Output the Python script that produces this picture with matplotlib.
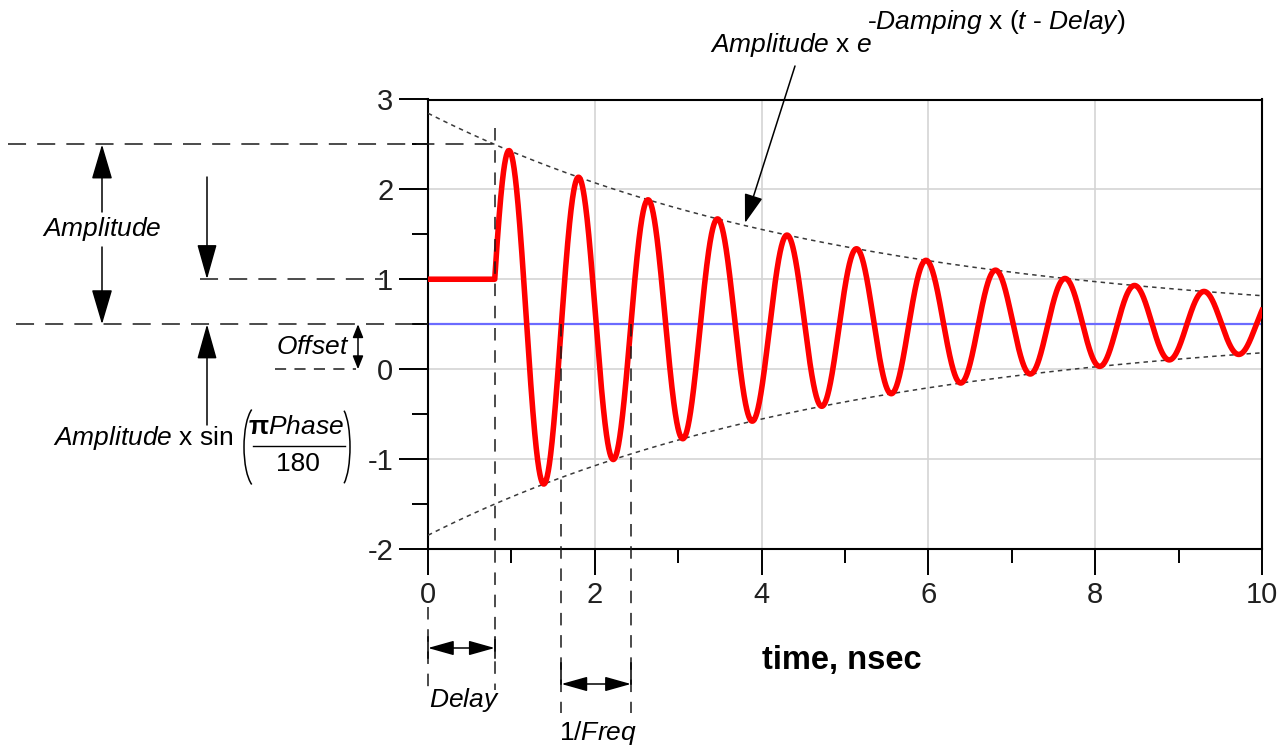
import numpy as np
import matplotlib
matplotlib.use("Agg")
import matplotlib.pyplot as plt
from matplotlib.patches import FancyArrowPatch, Arc

# ---- source parameters ----
amplitude = 2.0      # V
damping = 0.2        # 1/nsec
freq = 1.2           # GHz
phase = 14.5         # degrees
delay = 0.8          # nsec
offset = 0.5         # V

x_limits = [0, 10]
y_limits = [-2, 3]
x_ticks = [0, 2, 4, 6, 8, 10]
x_minor = [1, 3, 5, 7, 9]
y_ticks = [-2, -1, 0, 1, 2, 3]
y_minor = [-1.5, -0.5, 0.5, 1.5, 2.5]
x_label = "time, nsec"

plt.rcParams['font.family'] = ['Liberation Sans', 'DejaVu Sans']
plt.rcParams['mathtext.fontset'] = 'custom'
plt.rcParams['mathtext.rm'] = 'Liberation Sans'
plt.rcParams['mathtext.it'] = 'Liberation Sans:italic'
plt.rcParams['mathtext.bf'] = 'Liberation Sans:bold'
plt.rcParams['axes.unicode_minus'] = False
plt.rcParams['lines.scale_dashes'] = False

W, H = 1280, 751
fig = plt.figure(figsize=(W / 100, H / 100), dpi=100)
L, R, T, B = 428, 1262, 99.5, 549
ax = fig.add_axes([L / W, 1 - B / H, (R - L) / W, (B - T) / H])
ax.set_xlim(*x_limits)
ax.set_ylim(*y_limits)

# time samples and waveform
t = np.linspace(x_limits[0], x_limits[1], 4001)
env = amplitude * np.exp(-damping * (t - delay))
tt = t - delay
v = np.where(t < delay,
             offset + amplitude * np.sin(np.pi * phase / 180),
             offset + env * np.sin(2 * np.pi * freq * tt + np.pi * phase / 180))

ax.grid(True, which='major', color='#d4d4d4', lw=1.2)
ax.set_axisbelow(True)
ax.axhline(offset, color='#6b6bff', lw=1.6, zorder=2)
ax.plot(t, offset + env, color='#3a3a3a', lw=1.1, ls=(0, (3.2, 3.0)), zorder=3)
ax.plot(t, offset - env, color='#3a3a3a', lw=1.1, ls=(0, (3.2, 3.0)), zorder=3)
ax.plot(t, v, color='#ff0000', lw=4.0, zorder=4, solid_joinstyle='round')

for s in ax.spines.values():
    s.set_linewidth(1.5)
ax.set_xticks(x_ticks)
ax.set_xticks(x_minor, minor=True)
ax.set_yticks(y_ticks)
ax.set_yticks(y_minor, minor=True)
ax.set_xticklabels([str(x) for x in x_ticks])
ax.set_yticklabels([str(y) for y in y_ticks])
ax.tick_params(which='major', axis='y', length=21, width=1.4, pad=4, direction='out')
ax.tick_params(which='minor', axis='y', length=11.5, width=1.4, direction='out')
ax.tick_params(which='major', axis='x', length=19, width=1.4, pad=4, direction='out')
ax.tick_params(which='minor', axis='x', length=10, width=1.4, direction='out')
for lab in ax.get_xticklabels() + ax.get_yticklabels():
    lab.set_fontsize(21)
    lab.set_color('#202020')

# ---- overlay in pixel coordinates for annotations ----
ov = fig.add_axes([0, 0, 1, 1], zorder=5)
ov.set_xlim(0, W)
ov.set_ylim(H, 0)
ov.axis('off')
ov.patch.set_alpha(0)


def px(x):
    return ax.transData.transform((x, 0))[0]


def py(y):
    return H - ax.transData.transform((0, y))[1]


dash_long = (0, (13, 8))
dash_v = (0, (9, 7))
kw = dict(color='#1a1a1a', lw=1.1)

y_peak0 = py(offset + amplitude)
y_off = py(offset)
y_init = py(offset + amplitude * np.sin(np.pi * phase / 180))
y_zero = py(0)
x0 = px(0)
x_del = px(delay)
x_c1 = px(delay + (1 - phase / 360) / freq)
x_c2 = px(delay + (2 - phase / 360) / freq)

# horizontal dashed guides
ov.plot([8, x_del], [y_peak0, y_peak0], ls=dash_long, **kw)
ov.plot([200, 383], [y_init, y_init], ls=dash_long, **kw)
ov.plot([16, x0], [y_off, y_off], ls=dash_long, **kw)
ov.plot([275, 356], [y_zero, y_zero], ls=(0, (8, 6)), **kw)

# vertical dashed guides
ov.plot([x_del, x_del], [128, 690], ls=dash_v, **kw)
ov.plot([x0, x0], [607, 690], ls=dash_v, **kw)
ov.plot([x_c1, x_c1], [y_off, 713], ls=dash_v, **kw)
ov.plot([x_c2, x_c2], [y_off, 713], ls=dash_v, **kw)


def arrow(p1, p2, style, hl, hw, lw=1.1):
    a = FancyArrowPatch(p1, p2, arrowstyle=f'{style},head_length={hl},head_width={hw}',
                        mutation_scale=10, color='black', lw=lw,
                        shrinkA=0, shrinkB=0)
    ov.add_patch(a)


it_size = 19
# Amplitude double arrow (split by text)
arrow((102, 212), (102, y_peak0), '-|>', 2.2, 0.65)
arrow((102, 247), (102, y_off), '-|>', 2.2, 0.65)
ov.text(102, 229, r'$\mathit{Amplitude}$', fontsize=it_size, ha='center', va='center')

# arrow down to initial value, arrow up to offset
arrow((207, 177), (207, y_init), '-|>', 2.2, 0.62)
arrow((207, 425), (207, y_off), '-|>', 2.2, 0.62)

# Offset arrow
arrow((358, y_off), (358, y_zero), '<|-|>', 0.8, 0.32)
ov.text(349, 347, r'$\mathit{Offset}$', fontsize=it_size, ha='right', va='center')

# Amplitude x sin(pi Phase/180)
ov.text(53, 438, r'$\mathit{Amplitude}$ x sin', fontsize=it_size, ha='left', va='center')
ov.text(296, 427, r'$\mathbf{\pi}$$\mathit{Phase}$', fontsize=it_size, ha='center', va='center')
ov.text(298, 464, '180', fontsize=it_size, ha='center', va='center')
ov.plot([253, 345], [446, 446], color='black', lw=1.0)
ov.add_patch(Arc((257, 447), 26, 82, theta1=98, theta2=262, color='black', lw=1.1))
ov.add_patch(Arc((339, 447), 22, 82, theta1=-82, theta2=82, color='black', lw=1.1))

# Delay arrow with brackets
ov.plot([x0, x0], [637, 658], color='black', lw=1.1)
ov.plot([x_del, x_del], [637, 658], color='black', lw=1.1)
arrow((x0, 648), (x_del, 648), '<|-|>', 1.6, 0.45)
ov.text((x0 + x_del) / 2 + 3, 700, r'$\mathit{Delay}$', fontsize=it_size, ha='center', va='center')

# 1/Freq arrow with brackets
ov.plot([x_c1, x_c1], [663, 684], color='black', lw=1.1)
ov.plot([x_c2, x_c2], [663, 684], color='black', lw=1.1)
arrow((x_c1, 684), (x_c2, 684), '<|-|>', 1.6, 0.45)
ov.text((x_c1 + x_c2) / 2 + 2, 733, r'1/$\mathit{Freq}$', fontsize=it_size, ha='center', va='center')

# x label
ov.text(842, 661, x_label, fontsize=23.5, fontweight='bold', ha='center', va='center')

# envelope formula label
ov.text(710, 45, r'$\mathit{Amplitude}$ x $\mathit{e}$', fontsize=it_size, ha='left', va='center')
ov.text(867, 22, r'-$\mathit{Damping}$ x ($\mathit{t}$ - $\mathit{Delay}$)', fontsize=it_size,
        ha='left', va='center')
arrow((795, 66), (745, 223), '-|>', 1.8, 0.58)

fig.savefig('out.png', dpi=100)
